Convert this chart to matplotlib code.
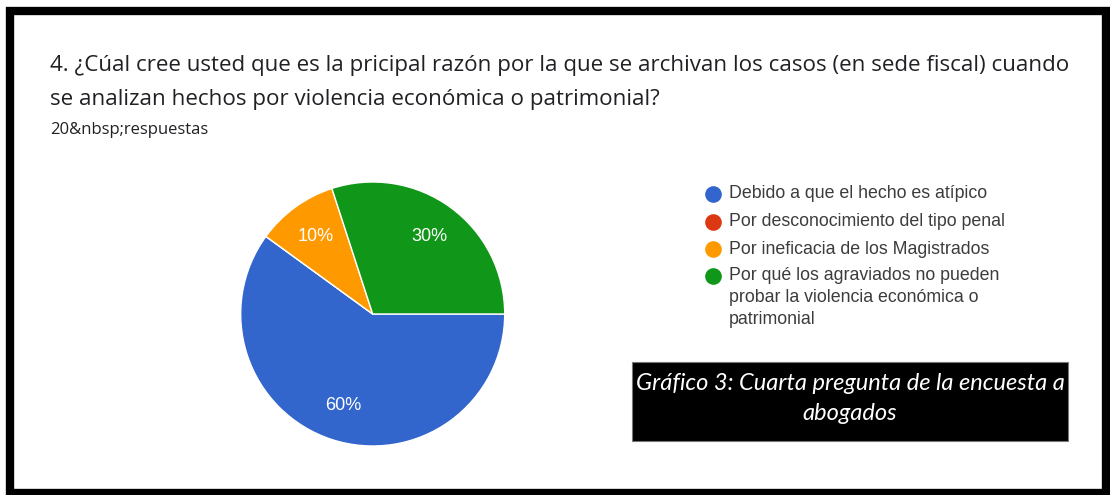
import matplotlib.pyplot as plt
from matplotlib.patches import Rectangle

# Data
labels = ['Debido a que el hecho es atípico',
          'Por desconocimiento del tipo penal',
          'Por ineficacia de los Magistrados',
          'Por qué los agraviados no pueden\nprobar la violencia económica o\npatrimonial']
values = [60, 0, 10, 30]
colors = ['#3366CC', '#DC3912', '#FF9900', '#109618']

title = ('4. ¿Cúal cree usted que es la pricipal razón por la que se archivan los casos (en sede fiscal) cuando\n'
         'se analizan hechos por violencia económica o patrimonial?')
subtitle = '20&nbsp;respuestas'
caption = 'Gráfico 3: Cuarta pregunta de la encuesta a\nabogados'

W, H = 1110, 495
fig = plt.figure(figsize=(W / 100, H / 100), dpi=100)
fig.patch.set_facecolor('white')

# overlay axes in pixel coords (y down)
frame = fig.add_axes([0, 0, 1, 1])
frame.set_xlim(0, W)
frame.set_ylim(H, 0)
frame.axis('off')
frame.add_patch(Rectangle((10, 11), 1096, 482, fill=False, edgecolor='black', linewidth=6))

# Title and subtitle
for i, line in enumerate(title.split('\n')):
    frame.text(50, 65 + 35 * i, line, fontsize=16.1, family='Open Sans', color='#202124',
               va='center', ha='left')
frame.text(50, 130, subtitle, fontsize=12, family='Open Sans', color='#202124',
           va='center', ha='left')

# Pie
cx, cy, r = 372.7, 314, 132
ax = fig.add_axes([(cx - r) / W, (H - cy - r) / H, 2 * r / W, 2 * r / H])
ax.pie(values, colors=colors, startangle=0, counterclock=False,
       autopct=lambda p: f'{p:.0f}%' if p > 0 else '', pctdistance=0.73,
       wedgeprops=dict(edgecolor='white', linewidth=1),
       textprops=dict(color='white', fontsize=13, family='Liberation Sans'))
ax.set_xlim(-1, 1)
ax.set_ylim(-1, 1)

# Legend
leg_y = [194, 222, 249, 276]
for lab, col, y in zip(labels, colors, leg_y):
    frame.plot(713, y, marker='o', markersize=12, color=col, markeredgewidth=0)
    for j, line in enumerate(lab.split('\n')):
        frame.text(729, y + 22 * j, line, fontsize=12.8, family='Liberation Sans',
                   color='#3c3c3c', va='center', ha='left')

# Caption box
frame.add_patch(Rectangle((632, 362), 436, 79, facecolor='black', edgecolor='#777777', linewidth=0.8))
for k, line in enumerate(caption.split('\n')):
    frame.text(850, 384 + 29 * k, line, fontsize=17, family='Lato', style='italic',
               color='white', ha='center', va='center')

fig.savefig('out.png', dpi=100)
